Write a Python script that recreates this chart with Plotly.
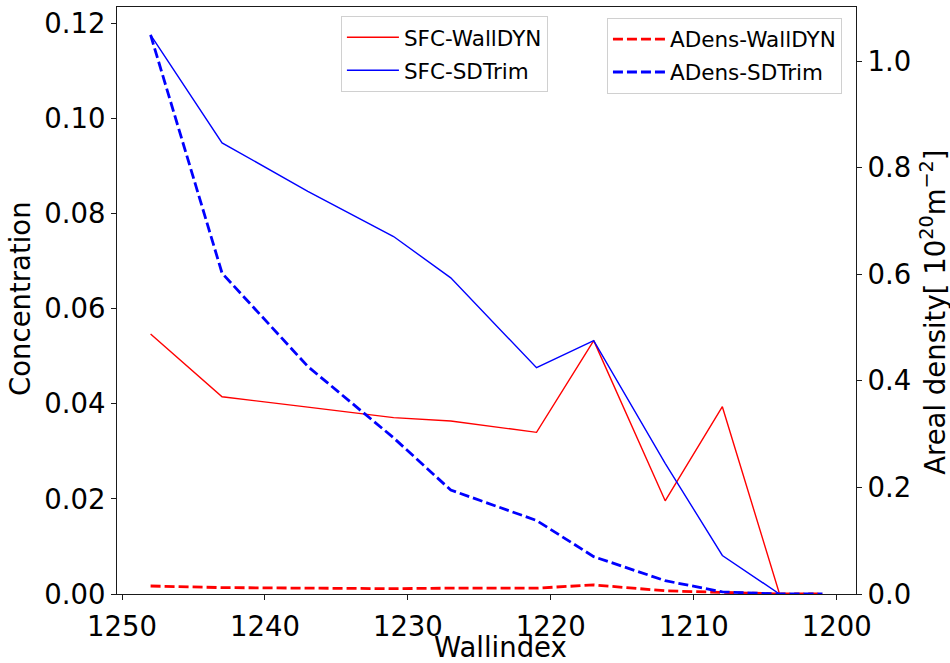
import plotly.graph_objects as go

# Wall index positions (x axis runs from high to low)
wallindex = [1248, 1243, 1237, 1231, 1227, 1221, 1217, 1212, 1208, 1204, 1201]

# Surface concentration (left axis); no value at the last index
sfc_walldyn = [0.0547, 0.0415, 0.0393, 0.0371, 0.0364, 0.0340, 0.0533, 0.0196, 0.0394, 0.0, None]
sfc_sdtrim = [0.1176, 0.0949, 0.0847, 0.0752, 0.0665, 0.0476, 0.0533, 0.0275, 0.0081, 0.0, None]

# Areal density in 1e20 m^-2 (right axis)
adens_walldyn = [0.015, 0.012, 0.011, 0.010, 0.011, 0.011, 0.017, 0.006, 0.003, 0.0, 0.0]
adens_sdtrim = [1.049, 0.602, 0.427, 0.293, 0.195, 0.138, 0.070, 0.025, 0.004, 0.0, 0.0]

x_ticks = [1250, 1240, 1230, 1220, 1210, 1200]
y_ticks = [0.00, 0.02, 0.04, 0.06, 0.08, 0.10, 0.12]
y2_ticks = [0.0, 0.2, 0.4, 0.6, 0.8, 1.0]

RED = "#ff0000"
BLUE = "#0000ff"
FONT = "DejaVu Sans"
AXIS_COLOR = "#1a1a1a"

# Axis limits with a 5 % margin around the data, bottoms pinned at zero
xmin, xmax = min(wallindex), max(wallindex)
xpad = 0.05 * (xmax - xmin)
y1max = max(v for v in sfc_walldyn + sfc_sdtrim if v is not None) * 1.05
y2max = max(adens_walldyn + adens_sdtrim) * 1.05

fig = go.Figure()

fig.add_trace(go.Scatter(x=wallindex, y=sfc_walldyn, mode="lines", name="SFC-WallDYN",
                         line=dict(color=RED, width=1.4), legend="legend",
                         legendgroup="a", connectgaps=False))
fig.add_trace(go.Scatter(x=wallindex, y=sfc_sdtrim, mode="lines", name="SFC-SDTrim",
                         line=dict(color=BLUE, width=1.4), legend="legend",
                         legendgroup="b", connectgaps=False))
fig.add_trace(go.Scatter(x=wallindex, y=adens_walldyn, mode="lines", name="ADens-WallDYN",
                         line=dict(color=RED, width=2.8, dash="10px,4px"),
                         yaxis="y2", legend="legend2", legendgroup="c"))
fig.add_trace(go.Scatter(x=wallindex, y=adens_sdtrim, mode="lines", name="ADens-SDTrim",
                         line=dict(color=BLUE, width=2.8, dash="10px,4px"),
                         yaxis="y2", legend="legend2", legendgroup="d"))

tick_font = dict(family=FONT, size=27.5, color="black")
legend_style = dict(
    font=dict(family=FONT, size=21.5, color="#000000"),
    bgcolor="rgba(255,255,255,0.8)",
    bordercolor="#d0d0d0",
    borderwidth=1,
    xanchor="left",
    yanchor="top",
    itemwidth=52,
    tracegroupgap=2,
)

fig.update_layout(
    width=950,
    height=663,
    margin=dict(l=117, r=94, t=7, b=69, pad=0),
    paper_bgcolor="white",
    plot_bgcolor="white",
    showlegend=True,
    xaxis=dict(
        range=[xmax + xpad, xmin - xpad],
        tickmode="array", tickvals=x_ticks, ticktext=[str(t) for t in x_ticks],
        tickfont=tick_font, ticklabelstandoff=3,
        showgrid=False, zeroline=False,
        showline=True, linecolor=AXIS_COLOR, linewidth=1.2, mirror=True,
        ticks="outside", ticklen=5, tickwidth=1.1, tickcolor=AXIS_COLOR,
    ),
    yaxis=dict(
        range=[0, y1max],
        tickmode="array", tickvals=y_ticks, ticktext=[f"{t:.2f}" for t in y_ticks],
        tickfont=tick_font,
        showgrid=False, zeroline=False,
        showline=True, linecolor=AXIS_COLOR, linewidth=1.2,
        ticks="outside", ticklen=5, tickwidth=1.1, tickcolor=AXIS_COLOR,
    ),
    yaxis2=dict(
        range=[0, y2max], overlaying="y", side="right",
        tickmode="array", tickvals=y2_ticks, ticktext=[f"{t:.1f}" for t in y2_ticks],
        tickfont=tick_font,
        showgrid=False, zeroline=False,
        showline=True, linecolor=AXIS_COLOR, linewidth=1.2,
        ticks="outside", ticklen=5, tickwidth=1.1, tickcolor=AXIS_COLOR,
    ),
    legend=dict(x=0.303, y=0.985, **legend_style),
    legend2=dict(x=0.663, y=0.982, **legend_style),
)

title_font = dict(family=FONT, size=27.5, color="black")
fig.add_annotation(text="Wallindex", xref="paper", yref="paper", x=0.5196, y=-0.091,
                   xanchor="center", yanchor="middle", showarrow=False, font=title_font)
fig.add_annotation(text="Concentration", xref="paper", yref="paper", x=-0.131, y=0.503,
                   xanchor="center", yanchor="middle", textangle=-90, showarrow=False,
                   font=title_font)
fig.add_annotation(text="Areal density[ 10<sup>20</sup>m<sup>\u22122</sup>]",
                   xref="paper", yref="paper", x=1.105, y=0.48,
                   xanchor="center", yanchor="middle", textangle=-90, showarrow=False,
                   font=title_font)

fig.write_html("out.html")
